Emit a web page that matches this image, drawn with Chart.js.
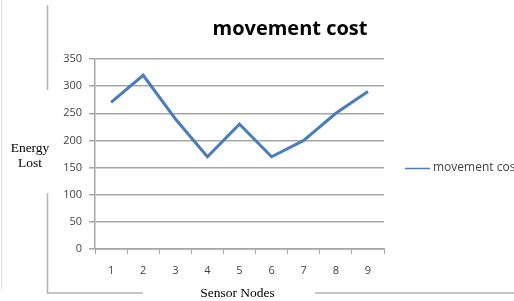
<!DOCTYPE html>
<html>
<head>
<meta charset="utf-8">
<script src="https://cdn.jsdelivr.net/npm/chart.js@4/dist/chart.umd.min.js"></script>
<style>
html,body{margin:0;padding:0;background:#fff;}
#wrap{width:514px;height:301px;position:relative;}
</style>
</head>
<body>
<div id="wrap"><canvas id="c" width="514" height="301"></canvas></div>
<script>
const categories = ['1','2','3','4','5','6','7','8','9'];
const seriesName = 'movement cost';
const movementCost = [270, 320, 240, 170, 230, 170, 200, 250, 290];
const yTicks = [0, 50, 100, 150, 200, 250, 300, 350];
const chartTitle = 'movement cost';
const yTitle = ['Energy', 'Lost'];
const xTitle = 'Sensor Nodes';

const decor = {
  id: 'decor',
  beforeDraw(chart) {
    const ctx = chart.ctx;
    ctx.save();
    ctx.strokeStyle = '#b4b4b4';
    ctx.lineWidth = 1.5;
    ctx.beginPath();
    ctx.moveTo(47.5, 5); ctx.lineTo(47.5, 90);
    ctx.moveTo(47.5, 193); ctx.lineTo(47.5, 293);
    ctx.lineTo(143, 293);
    ctx.moveTo(315, 293); ctx.lineTo(514, 293);
    ctx.stroke();
    ctx.strokeStyle = '#e2e2e2';
    ctx.lineWidth = 1;
    ctx.beginPath();
    ctx.moveTo(1.5, 0); ctx.lineTo(1.5, 290);
    ctx.stroke();
    ctx.restore();
  },
  afterDraw(chart) {
    const ctx = chart.ctx;
    const a = chart.chartArea;
    ctx.save();
    // title
    ctx.fillStyle = '#000';
    ctx.font = 'bold 20px "Open Sans", sans-serif';
    ctx.textAlign = 'center';
    ctx.textBaseline = 'middle';
    ctx.fillText(chartTitle, 290, 29);
    // y title
    ctx.font = '13.5px "Liberation Serif", serif';
    ctx.fillStyle = '#000';
    ctx.fillText(yTitle[0], 30, 148);
    ctx.fillText(yTitle[1], 30, 163);
    // x title
    ctx.fillText(xTitle, (a.left + a.right) / 2 - 2, 293);
    // legend
    const ds = chart.data.datasets[0];
    ctx.strokeStyle = ds.borderColor;
    ctx.lineWidth = 1.5;
    ctx.beginPath();
    ctx.moveTo(405, 168.5); ctx.lineTo(430, 168.5);
    ctx.stroke();
    ctx.font = '12px "Open Sans", sans-serif';
    ctx.fillStyle = '#444';
    ctx.textAlign = 'left';
    ctx.fillText(ds.label, 433, 168);
    ctx.restore();
  }
};

new Chart(document.getElementById('c'), {
  type: 'line',
  data: {
    labels: categories,
    datasets: [{
      label: seriesName,
      data: movementCost,
      borderColor: '#4a7ebb',
      borderWidth: 3,
      pointRadius: 0,
      tension: 0,
      fill: false
    }]
  },
  options: {
    responsive: false,
    animation: false,
    devicePixelRatio: 1,
    layout: { padding: { left: 0, right: 130, top: 59, bottom: 0 } },
    plugins: { legend: { display: false }, title: { display: false }, tooltip: { enabled: false } },
    scales: {
      x: {
        type: 'category',
        offset: true,
        afterFit(s) { s.height = 52; },
        grid: { offset: true, drawOnChartArea: false, drawTicks: true, tickLength: 5, color: '#a6a6a6', lineWidth: 1 },
        border: { color: '#a6a6a6', width: 1.5 },
        ticks: { padding: 10, color: '#444', font: { family: '"Open Sans", sans-serif', size: 11 }, maxRotation: 0 }
      },
      y: {
        min: 0, max: 350,
        afterFit(s) { s.width = 95; },
        afterBuildTicks(s) { s.ticks = yTicks.map(v => ({ value: v })); },
        grid: { color: '#a6a6a6', lineWidth: 1.5, tickLength: 6 },
        border: { color: '#a6a6a6', width: 1.5 },
        ticks: { padding: 7, color: '#444', font: { family: '"Open Sans", sans-serif', size: 11 } }
      }
    }
  },
  plugins: [decor]
});
</script>
</body>
</html>
